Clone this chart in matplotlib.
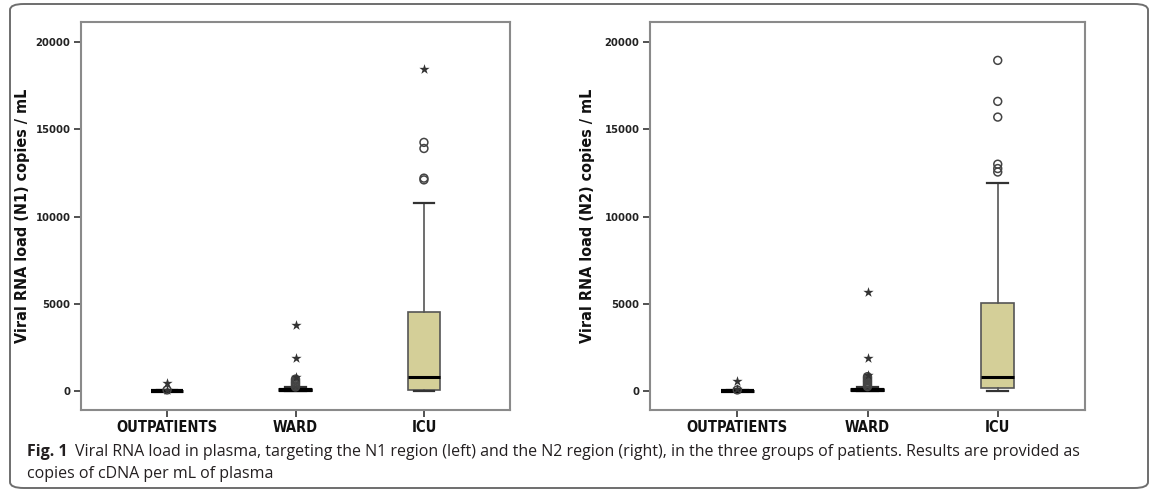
import matplotlib
matplotlib.use("Agg")
import matplotlib.pyplot as plt
from matplotlib.patches import FancyBboxPatch

groups = ["OUTPATIENTS", "WARD", "ICU"]

# box stats: (whislo, q1, med, q3, whishi)
n1_stats = [(0, 0, 0, 20, 40), (0, 10, 30, 90, 200), (0, 80, 830, 4550, 10800)]
n2_stats = [(0, 0, 0, 20, 40), (0, 10, 30, 90, 220), (0, 150, 830, 5050, 11900)]

# outliers: circles (o) and extremes (*)
n1_circles = [[60], [230, 300, 380, 450, 520, 600, 680], [12100, 12200, 13900, 14250]]
n1_stars = [[80, 480], [780, 1900, 3800], [18450]]
n2_circles = [[60], [250, 330, 420, 500, 580, 660, 740, 820], [12550, 12750, 13000, 15700, 16600, 18950]]
n2_stars = [[90, 560], [900, 1900, 5650], []]

ylabels = ["Viral RNA load (N1) copies / mL", "Viral RNA load (N2) copies / mL"]

box_color = "#d4cf98"
frame_color = "#8a8a8a"
tick_font = ["DejaVu Sans"]

fig = plt.figure(figsize=(11.52, 4.92), dpi=100)
fig.patches.append(FancyBboxPatch((10 / 1152, 4 / 492), 1138 / 1152, 484 / 492,
                                  boxstyle="round,pad=0,rounding_size=0.012",
                                  transform=fig.transFigure, fill=False,
                                  edgecolor="#6e6e6e", linewidth=1.4))

axes = [fig.add_axes([81 / 1152, 82 / 492, 429 / 1152, 388 / 492]),
        fig.add_axes([650 / 1152, 82 / 492, 435 / 1152, 388 / 492])]

panels = [(n1_stats, n1_circles, n1_stars), (n2_stats, n2_circles, n2_stars)]
label_x = [-0.119, -0.126]

for ax, (stats, circles, stars), ylab, lx in zip(axes, panels, ylabels, label_x):
    bstats = []
    for s in stats:
        bstats.append({"whislo": s[0], "q1": s[1], "med": s[2], "q3": s[3],
                       "whishi": s[4], "fliers": []})
    ax.bxp(bstats, positions=[1, 2, 3], widths=0.25, patch_artist=True,
           showfliers=False,
           boxprops=dict(facecolor=box_color, edgecolor="#555555", linewidth=1.2),
           medianprops=dict(color="black", linewidth=2.2),
           whiskerprops=dict(color="#555555", linewidth=1.2),
           capprops=dict(color="#333333", linewidth=1.6),
           capwidths=0.16)
    # collapsed boxes look like thick bars
    for i, s in enumerate(stats):
        if s[3] - s[1] < 200:
            ax.plot([i + 1 - 0.125, i + 1 + 0.125], [s[2], s[2]], color="black",
                    linewidth=3, solid_capstyle="butt", zorder=3)
    for i in range(3):
        if circles[i]:
            ax.scatter([i + 1] * len(circles[i]), circles[i], s=32, facecolors="none",
                       edgecolors="#444444", linewidths=1.1, zorder=4)
        if stars[i]:
            ax.scatter([i + 1] * len(stars[i]), stars[i], s=60, marker="*",
                       color="#333333", linewidths=0, zorder=4)

    ax.set_xlim(0.33, 3.67)
    ax.set_ylim(-1090, 21150)
    ax.set_yticks([0, 5000, 10000, 15000, 20000])
    ax.set_xticks([1, 2, 3])
    ax.set_xticklabels(groups)
    for sp in ax.spines.values():
        sp.set_color(frame_color)
        sp.set_linewidth(1.5)
    ax.tick_params(axis="both", direction="out", length=5, width=1.2, color="#333333",
                   pad=2.5)
    for t in ax.get_yticklabels():
        t.set_fontfamily(tick_font)
        t.set_fontstretch("condensed")
        t.set_fontweight("bold")
        t.set_fontsize(8)
        t.set_color("#222222")
    for t in ax.get_xticklabels():
        t.set_fontfamily(tick_font)
        t.set_fontstretch("condensed")
        t.set_fontweight("bold")
        t.set_fontsize(10.5)
        t.set_color("#111111")
    ax.set_ylabel(ylab, fontsize=11.5, fontweight="bold", family=tick_font,
                  fontstretch="condensed", color="#111111")
    ax.yaxis.set_label_coords(lx, 0.5)

cap_font = ["Open Sans", "DejaVu Sans"]
fig.text(27 / 1152, 1 - 452 / 492, "Fig. 1", fontsize=11.5, fontweight="bold",
         family=cap_font, color="#231f20", va="center")
fig.text(75 / 1152, 1 - 452 / 492,
         "Viral RNA load in plasma, targeting the N1 region (left) and the N2 region (right), "
         "in the three groups of patients. Results are provided as",
         fontsize=11.5, family=cap_font, color="#231f20", va="center")
fig.text(27 / 1152, 1 - 474 / 492, "copies of cDNA per mL of plasma", fontsize=11.5,
         family=cap_font, color="#231f20", va="center")

fig.savefig("out.png", dpi=100)
